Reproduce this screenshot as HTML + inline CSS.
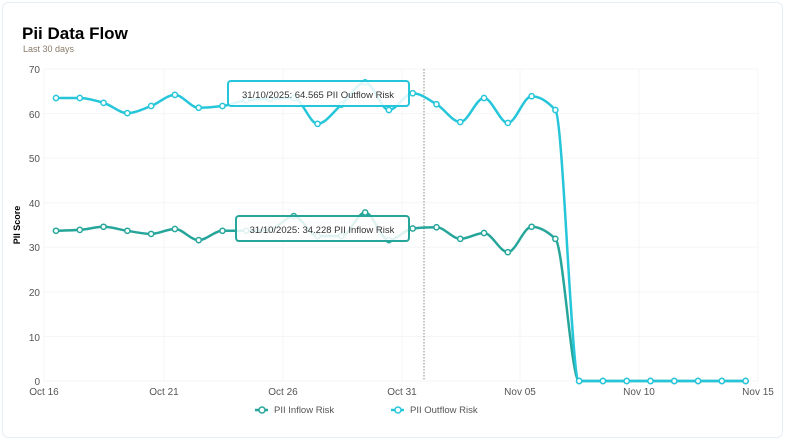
<!DOCTYPE html>
<html><head><meta charset="utf-8"><style>
html,body{margin:0;padding:0;background:#fff;width:785px;height:441px;overflow:hidden;font-family:"Liberation Sans",sans-serif}
.card{position:absolute;left:2px;top:2px;width:779px;height:434px;border:1px solid #e6eef6;border-radius:6px;background:#fff}
</style></head><body>
<div class="card"></div>
<svg width="785" height="441" style="position:absolute;left:0;top:0" font-family="Liberation Sans, sans-serif">
<text x="22" y="39" font-size="17" font-weight="bold" fill="#000">Pii Data Flow</text>
<text x="23" y="52" font-size="9" fill="#8a7a6a">Last 30 days</text>
<g id="grid" stroke="#f4f5f7" stroke-width="1"></g>
<g font-size="10" fill="#555" text-anchor="end">
<text x="40" y="73">70</text><text x="40" y="118">60</text><text x="40" y="162">50</text><text x="40" y="207">40</text><text x="40" y="251">30</text><text x="40" y="296">20</text><text x="40" y="341">10</text><text x="40" y="385">0</text>
</g>
<g font-size="10" fill="#555" text-anchor="middle">
<text x="44" y="395">Oct 16</text><text x="164" y="395">Oct 21</text><text x="283" y="395">Oct 26</text><text x="402" y="395">Oct 31</text><text x="520" y="395">Nov 05</text><text x="639" y="395">Nov 10</text><text x="758" y="395">Nov 15</text>
</g>
<text transform="translate(20,225) rotate(-90)" font-size="9" font-weight="bold" text-anchor="middle" fill="#000">PII Score</text>
<line x1="424" y1="69" x2="424" y2="381" stroke="#888" stroke-dasharray="1.5,1.5"/>
<path id="pin" fill="none" stroke="#26a69a" stroke-width="2.5"/>
<path id="pout" fill="none" stroke="#26c6da" stroke-width="2.5"/>
<g id="dots"></g>
<rect x="228" y="81" width="181" height="25" rx="3" fill="#fff" fill-opacity="0.85" stroke="#26c6da" stroke-width="2"/>
<text x="318" y="98" font-size="9.5" text-anchor="middle" fill="#333">31/10/2025: 64.565 PII Outflow Risk</text>
<rect x="236" y="216" width="173" height="25" rx="3" fill="#fff" fill-opacity="0.85" stroke="#26a69a" stroke-width="2"/>
<text x="322" y="233" font-size="9.5" text-anchor="middle" fill="#333">31/10/2025: 34.228 PII Inflow Risk</text>
<g font-size="9.5" fill="#555">
<line x1="255" y1="410" x2="268" y2="410" stroke="#26a69a" stroke-width="2.5"/><circle cx="262" cy="410" r="3" fill="#fff" stroke="#26a69a" stroke-width="1.5"/>
<text x="274" y="413">PII Inflow Risk</text>
<line x1="391" y1="410" x2="404" y2="410" stroke="#26c6da" stroke-width="2.5"/><circle cx="398" cy="410" r="3" fill="#fff" stroke="#26c6da" stroke-width="1.5"/>
<text x="410" y="413">PII Outflow Risk</text>
</g>
</svg>
<script>
var out=[63.5,63.5,62.4,60.1,61.7,64.2,61.3,61.7,63,63.3,63.5,57.7,62,67,60.8,64.565,62.1,58.1,63.5,57.9,63.9,60.8];
var inf=[33.7,33.9,34.6,33.7,33,34.1,31.6,33.7,33.7,34,37,32.5,32.5,37.8,31.6,34.228,34.5,31.9,33.2,28.9,34.6,31.9];
for(var i=0;i<8;i++){out.push(0);inf.push(0);}
function X(i){return 56+i*23.78}function Y(v){return 381-v*4.457}
function path(d){var p=d.map(function(v,i){return [X(i),Y(v)]});var n=p.length,h=23.78;
var dl=[],m=[];for(var i=0;i<n-1;i++)dl.push((p[i+1][1]-p[i][1])/h);
m[0]=dl[0];m[n-1]=dl[n-2];
for(var i=1;i<n-1;i++){if(dl[i-1]*dl[i]<=0)m[i]=0;else{m[i]=2/(1/dl[i-1]+1/dl[i]);}}
var s="M"+p[0][0]+","+p[0][1];
for(var i=0;i<n-1;i++){s+=" C"+(p[i][0]+h/3)+","+(p[i][1]+m[i]*h/3)+" "+(p[i+1][0]-h/3)+","+(p[i+1][1]-m[i+1]*h/3)+" "+p[i+1][0]+","+p[i+1][1];}
return s;}
document.getElementById('pin').setAttribute('d',path(inf));
document.getElementById('pout').setAttribute('d',path(out));
var g=document.getElementById('grid'),hh="";
for(var v=0;v<=70;v+=10)hh+='<line x1="44" x2="758" y1="'+Y(v)+'" y2="'+Y(v)+'"/>';
[44,164,283,402,520,639,758].forEach(function(x){hh+='<line x1="'+x+'" x2="'+x+'" y1="69" y2="381"/>'});
g.innerHTML=hh;
var d="";[[inf,"#26a69a"],[out,"#26c6da"]].forEach(function(a){a[0].forEach(function(v,i){d+='<circle cx="'+X(i)+'" cy="'+Y(v)+'" r="2.6" fill="#fff" stroke="'+a[1]+'" stroke-width="1.5"/>'})});
document.getElementById('dots').innerHTML=d;
</script>
</body></html>
